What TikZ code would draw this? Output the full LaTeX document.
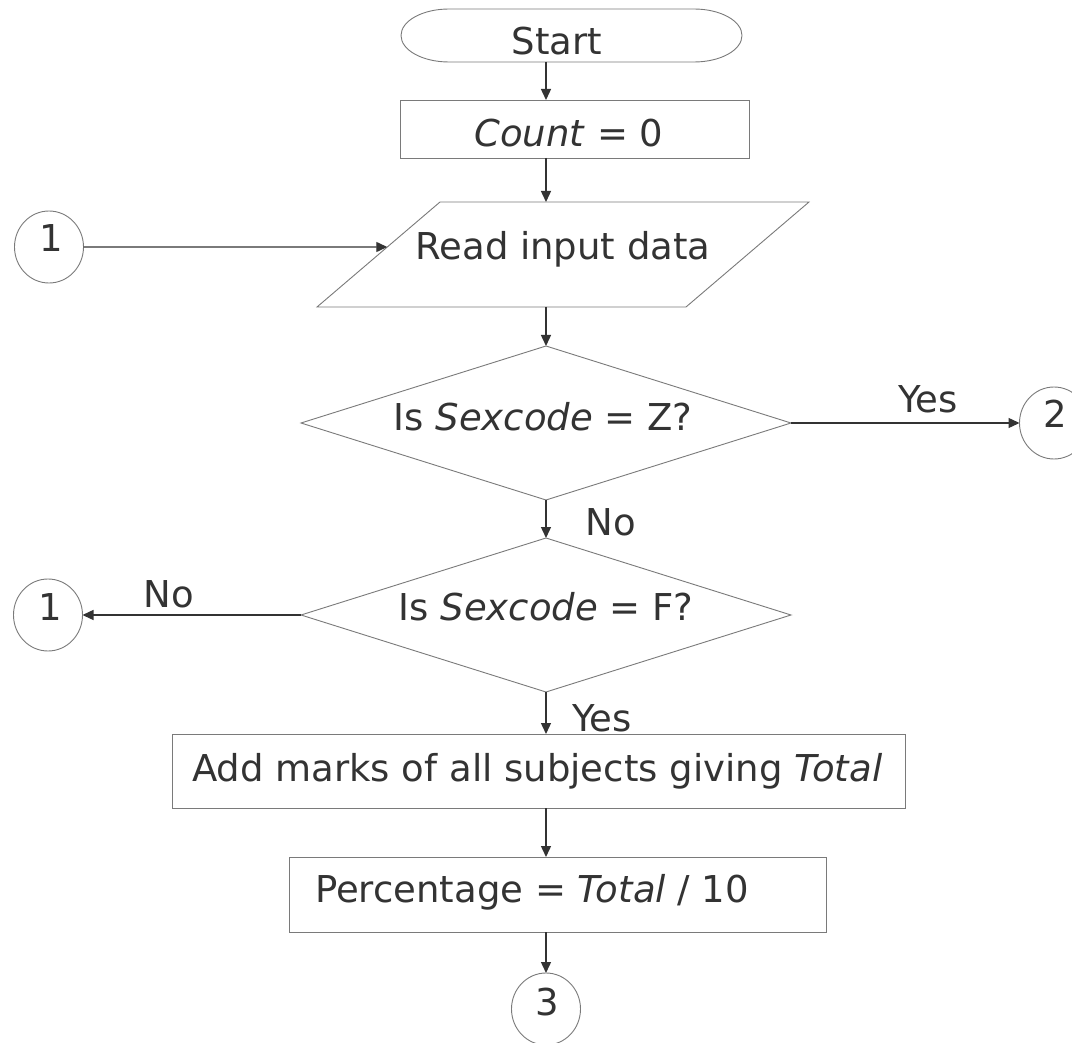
\documentclass[tikz,border=0pt]{standalone}
\usepackage{fontspec}
\setmainfont{DejaVu Sans}
\usetikzlibrary{shapes.geometric,arrows.meta,calc}
\definecolor{txtc}{HTML}{333333}
\definecolor{edgec}{HTML}{7A7A7A}
\begin{document}
\begin{tikzpicture}[x=1pt,y=-1pt,
  shp/.style={draw=edgec,line width=0.9pt},
  boxnode/.style={shp,rectangle,inner sep=0pt,outer sep=0pt},
  dia/.style={shp,diamond,aspect=3.2,inner sep=0pt,outer sep=0pt,minimum width=490pt,minimum height=154pt},
  conn/.style={ellipse,shp,inner sep=0pt,outer sep=0pt,minimum width=69pt,minimum height=72pt},
  lbl/.style={font=\fontsize{37}{44}\selectfont,text=txtc,inner sep=0pt,anchor=base},
  arr/.style={draw=black!80,line width=1.4pt,-{Triangle[length=11pt,width=10pt]}},
]
\useasboundingbox (0,0) rectangle (1072,1043);
\clip (0,0) rectangle (1072,1043);
\fill[white] (0,0) rectangle (1072,1043);

% start terminator
\node[rectangle,minimum width=341pt,minimum height=53pt,inner sep=0pt,outer sep=0pt] (start) at (571.5,35.5) {};
\draw[shp] ([xshift=48pt]start.north west) -- ([xshift=-48pt]start.north east)
  arc[start angle=90,end angle=-90,x radius=48pt,y radius=26.5pt]
  -- ([xshift=48pt]start.south west)
  arc[start angle=270,end angle=90,x radius=48pt,y radius=26.5pt] -- cycle;

% process boxes
\node[boxnode,minimum width=349pt,minimum height=58pt] (count) at (574.5,129) {};
\node[boxnode,minimum width=733pt,minimum height=74pt] (add) at (538.5,771) {};
\node[boxnode,minimum width=537pt,minimum height=75pt] (perc) at (557.5,894.5) {};

% input parallelogram
\coordinate (pTL) at (440,202);
\coordinate (pTR) at (809,202);
\coordinate (pBR) at (686,307);
\coordinate (pBL) at (317,307);
\draw[shp] (pTL) -- (pTR) -- (pBR) -- (pBL) -- cycle;
\coordinate (pin) at ($(pTL)!0.4286!(pBL)$);

% decisions
\node[dia] (d1) at (546,423) {};
\node[dia] (d2) at (546,615) {};

% connectors (circles)
\node[conn] (c1a) at (49,247) {};
\node[conn] (c2) at (1054,423) {};
\node[conn] (c1b) at (48,615) {};
\node[conn] (c3) at (546,1009) {};

% texts
\node[lbl] (tStart) at (557,55) {Start};
\node[lbl] (tCount) at (569,147) {\textit{Count} = 0};
\node[lbl] (tRead) at (563,260) {Read input data};
\node[lbl] (tD1) at (543,430) {Is \textit{Sexcode} = Z?};
\node[lbl] (tD2) at (546,620) {Is \textit{Sexcode} = F?};
\node[lbl,anchor=base west] (tAdd) at (192,781) {Add marks of all subjects giving \textit{Total}};
\node[lbl,anchor=base west] (tPerc) at (315,902) {Percentage = \textit{Total} / 10};
\node[lbl] (n1a) at (51,252) {1};
\node[lbl] (n2) at (1055,427) {2};
\node[lbl] (n1b) at (50,620) {1};
\node[lbl] (n3) at (547,1015) {3};
\node[lbl] (yes1) at (928,412) {Yes};
\node[lbl] (no1) at (611,535) {No};
\node[lbl] (no2) at (169,607) {No};
\node[lbl] (yes2) at (602,731) {Yes};

% arrows
\draw[arr] (d1.north |- start.south) -- (d1.north |- count.north);
\draw[arr] (d1.north |- count.south) -- (d1.north |- pTL);
\draw[arr] (d1.north |- pBL) -- (d1.north);
\draw[arr] (d1.south) -- (d2.north);
\draw[arr] (d2.south) -- (d2.south |- add.north);
\draw[arr] (d2.south |- add.south) -- (d2.south |- perc.north);
\draw[arr] (d2.south |- perc.south) -- (c3.north);
\draw[arr] (c1a.east) -- (pin);
\draw[arr] (d1.east) -- (c2.west);
\draw[arr] (d2.west) -- (c1b.east);
\end{tikzpicture}
\end{document}
